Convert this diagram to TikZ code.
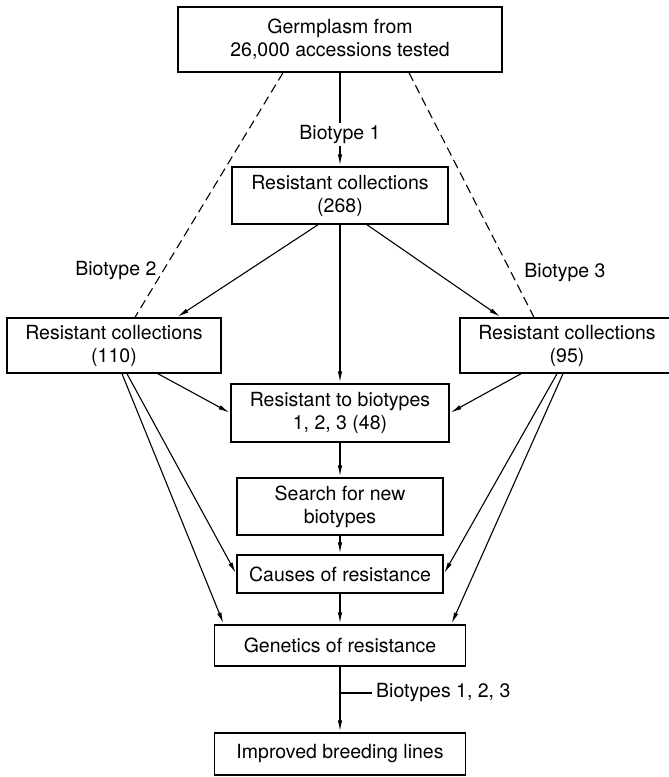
\documentclass[tikz,border=0pt]{standalone}
\usepackage{fontspec}
\setmainfont{TeX Gyre Heros}
\usetikzlibrary{arrows.meta,calc}
\begin{document}
\begin{tikzpicture}[x=1pt,y=-1pt,
  box/.style={draw,line width=1.5pt,align=center,inner sep=0pt,font=\fontsize{19.5}{23}\selectfont},
  conn/.style={line width=1.1pt,-{Latex[length=11pt,width=4.5pt]},shorten >=1pt},
  dconn/.style={line width=1.1pt,dash pattern=on 9pt off 5pt},
  lbl/.style={font=\fontsize{19.5}{23}\selectfont,inner sep=2pt}]
\useasboundingbox (0,0) rectangle (669,777);
\fill[white] (0,0) rectangle (669,777);
\clip (0,0) rectangle (669,777);
\node[box,minimum width=324pt,minimum height=65pt] (top) at (340,39.5) {Germplasm from\\26,000 accessions tested};
\node[box,minimum width=216pt,minimum height=57pt] (r268) at (340,195.5) {Resistant collections\\(268)};
\node[box,minimum width=214pt,minimum height=55pt] (r110) at (114,345.5) {Resistant collections\\(110)};
\node[box,minimum width=214pt,minimum height=55pt] (r95) at (567,345.5) {Resistant collections\\(95)};
\node[box,minimum width=218pt,minimum height=58pt] (r48) at (340,413) {Resistant to biotypes\\1, 2, 3 (48)};
\node[box,minimum width=206pt,minimum height=57pt] (search) at (340,506.5) {Search for new\\biotypes};
\node[box,minimum width=206pt,minimum height=38pt] (causes) at (340,574) {Causes of resistance};
\node[box,minimum width=251pt,minimum height=41pt] (gen) at (340,645.5) {Genetics of resistance};
\node[box,minimum width=251pt,minimum height=42pt] (imp) at (340,754) {Improved breeding lines};

\draw[conn] (top.south) -- node[lbl,fill=white,pos=0.66]{Biotype 1} (r268.north);
\draw[dconn] ([xshift=-57pt]top.south) -- node[lbl,pos=0.807,left,xshift=-4.6pt]{Biotype 2} ([xshift=21pt]r110.north);
\draw[dconn] ([xshift=69pt]top.south) -- node[lbl,pos=0.815,right,xshift=11pt]{Biotype 3} ([xshift=-33pt]r95.north);

\draw[conn] ([xshift=-22pt]r268.south) -- ([xshift=63pt]r110.north);
\draw[conn] ([xshift=27pt]r268.south) -- ([xshift=-66pt]r95.north);
\draw[conn] (r268.south) -- (r48.north);
\draw[conn] ([xshift=44pt]r110.south) -- (r48.west);
\draw[conn] ([xshift=-46pt]r95.south) -- (r48.east);
\draw[conn] ([xshift=13pt]r110.south) -- (causes.west);
\draw[conn] ([xshift=8pt]r110.south) -- ([xshift=10pt]gen.north west);
\draw[conn] ([xshift=-10pt]r95.south) -- (causes.east);
\draw[conn] ([xshift=-4pt]r95.south) -- ([xshift=-15pt]gen.north east);
\draw[conn] (r48.south) -- (search.north);
\draw[conn] (search.south) -- (causes.north);
\draw[conn] (causes.south) -- (gen.north);
\draw[conn] (gen.south) -- coordinate[pos=0.4] (tk) (imp.north);
\node[lbl,anchor=west,inner sep=4pt] (bt) at ([xshift=32pt]tk) {Biotypes 1, 2, 3};
\draw[line width=1.1pt] (tk) -- (bt.west);
\end{tikzpicture}
\end{document}
